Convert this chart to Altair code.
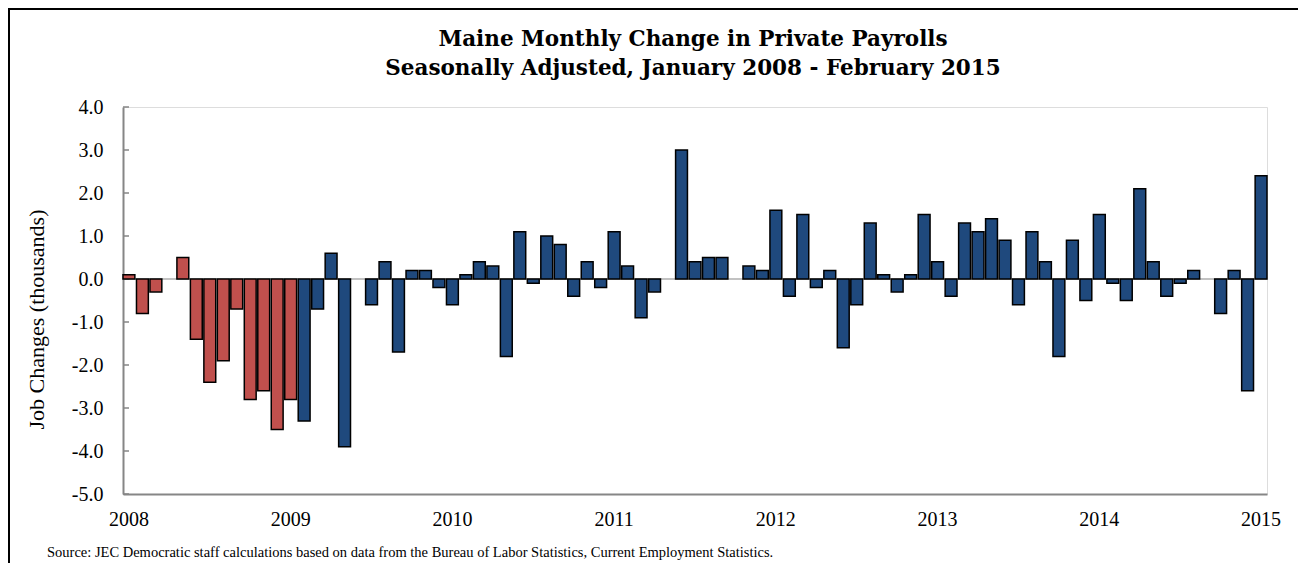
import altair as alt
import pandas as pd

# ---- data -------------------------------------------------------------
years = list(range(2008, 2016))
months = [f"{y}-{m:02d}" for y in range(2008, 2016) for m in range(1, 13)][:85]  # Jan 2008 .. Jan 2015

values = [
    0.1, -0.8, -0.3, 0.0, 0.5, -1.4, -2.4, -1.9, -0.7, -2.8, -2.6, -3.5,   # 2008
    -2.8, -3.3, -0.7, 0.6, -3.9, 0.0, -0.6, 0.4, -1.7, 0.2, 0.2, -0.2,     # 2009
    -0.6, 0.1, 0.4, 0.3, -1.8, 1.1, -0.1, 1.0, 0.8, -0.4, 0.4, -0.2,       # 2010
    1.1, 0.3, -0.9, -0.3, 0.0, 3.0, 0.4, 0.5, 0.5, 0.0, 0.3, 0.2,          # 2011
    1.6, -0.4, 1.5, -0.2, 0.2, -1.6, -0.6, 1.3, 0.1, -0.3, 0.1, 1.5,       # 2012
    0.4, -0.4, 1.3, 1.1, 1.4, 0.9, -0.6, 1.1, 0.4, -1.8, 0.9, -0.5,        # 2013
    1.5, -0.1, -0.5, 2.1, 0.4, -0.4, -0.1, 0.2, 0.0, -0.8, 0.2, -2.6,      # 2014
    2.4,                                                                   # 2015
]
n_red = 13  # Jan 2008 .. Jan 2009 drawn in red
periods = ["Bush" if i < n_red else "Obama" for i in range(len(values))]
period_names = ["Bush", "Obama"]
period_colors = ["#C0504D", "#1F497D"]

y_ticks = [-5, -4, -3, -2, -1, 0, 1, 2, 3, 4]
year_ticks = [f"{y}-01" for y in years]

title_lines = ["Maine Monthly Change in Private Payrolls",
               "Seasonally Adjusted, January 2008 - February 2015"]
y_title = "Job Changes (thousands)"
source_text = ("Source: JEC Democratic staff  calculations based on data from the "
               "Bureau of Labor Statistics, Current Employment Statistics.")

df = pd.DataFrame({"month": months, "value": values, "period": periods})
df_bars = df[df["value"] != 0]
ticks_df = pd.DataFrame({"t": y_ticks})
one = pd.DataFrame({"a": [0]})

# ---- layout -------------------------------------------------------------
W, H = 1144, 387
PAD_L, PAD_T, PAD_R, PAD_B = 115, 99, 31, 69
FONT = "Liberation Serif"
TFONT = "DejaVu Serif"
GRAY = "#868686"

x_enc = alt.X(
    "month:O",
    scale=alt.Scale(domain=months, paddingInner=0.12, paddingOuter=0.0),
    axis=alt.Axis(values=year_ticks, labelExpr="slice(datum.value, 0, 4)",
                  title=None, ticks=False, labelAngle=0, labelPadding=15,
                  labelFontSize=20, labelFont=FONT, labelColor="#000000",
                  domainColor=GRAY, domainWidth=2, grid=False, labelOverlap=False),
)
y_scale = alt.Scale(domain=[-5, 4], nice=False, zero=False)

bars = alt.Chart(df_bars).mark_bar(stroke="#000000", strokeWidth=1.5).encode(
    x=x_enc,
    y=alt.Y("value:Q", scale=y_scale,
            axis=alt.Axis(values=y_ticks, ticks=False, grid=False,
                          labelExpr="(datum.value < 0 ? '-' : '') + format(abs(datum.value), '.1f')",
                          labelFontSize=20, labelFont=FONT, labelColor="#000000",
                          labelPadding=20, domainColor=GRAY, domainWidth=2,
                          title=y_title, titleFont=FONT, titleFontSize=22,
                          titleFontWeight="normal", titleColor="#000000",
                          titleAngle=270, titleX=-87, titleY=212,
                          titleAlign="center", titleBaseline="middle")),
    y2=alt.datum(0),
    color=alt.Color("period:N", scale=alt.Scale(domain=period_names, range=period_colors),
                    legend=None),
)

zero_line = alt.Chart(one).mark_rule(color=GRAY, strokeWidth=1.2).encode(
    y=alt.datum(0, scale=y_scale), x=alt.value(0), x2=alt.value(W)
)

inner_ticks = alt.Chart(ticks_df).mark_rule(color=GRAY, strokeWidth=1.5).encode(
    y=alt.Y("t:Q", scale=y_scale), x=alt.value(0), x2=alt.value(6)
)

frame_top = alt.Chart(one).mark_rule(color="#000000", strokeWidth=2).encode(
    y=alt.value(-PAD_T + 1), x=alt.value(-PAD_L), x2=alt.value(W + PAD_R)
)
frame_left = alt.Chart(one).mark_rule(color="#000000", strokeWidth=2).encode(
    x=alt.value(-PAD_L + 1), y=alt.value(-PAD_T), y2=alt.value(H + PAD_B)
)

title1 = alt.Chart(one).mark_text(
    text=title_lines[0], font=TFONT, fontSize=21.5, fontWeight="bold", align="center",
    baseline="alphabetic", color="#000000"
).encode(x=alt.value(W / 2 - 2), y=alt.value(-61))
title2 = alt.Chart(one).mark_text(
    text=title_lines[1], font=TFONT, fontSize=21.5, fontWeight="bold", align="center",
    baseline="alphabetic", color="#000000"
).encode(x=alt.value(W / 2 - 2), y=alt.value(-32))

source = alt.Chart(one).mark_text(
    text=source_text, font=FONT, fontSize=14.5, align="left", baseline="alphabetic",
    color="#000000"
).encode(x=alt.value(-76), y=alt.value(450))

chart = alt.layer(
    zero_line, inner_ticks, bars, frame_top, frame_left, title1, title2, source
).properties(
    width=W, height=H,
    autosize=alt.AutoSizeParams(type="none"),
    padding={"left": PAD_L, "top": PAD_T, "right": PAD_R, "bottom": PAD_B},
).configure_view(
    stroke=GRAY, strokeWidth=2
).configure(background="#ffffff")

chart.save("out.html", embed_options={"renderer": "svg", "actions": False})
